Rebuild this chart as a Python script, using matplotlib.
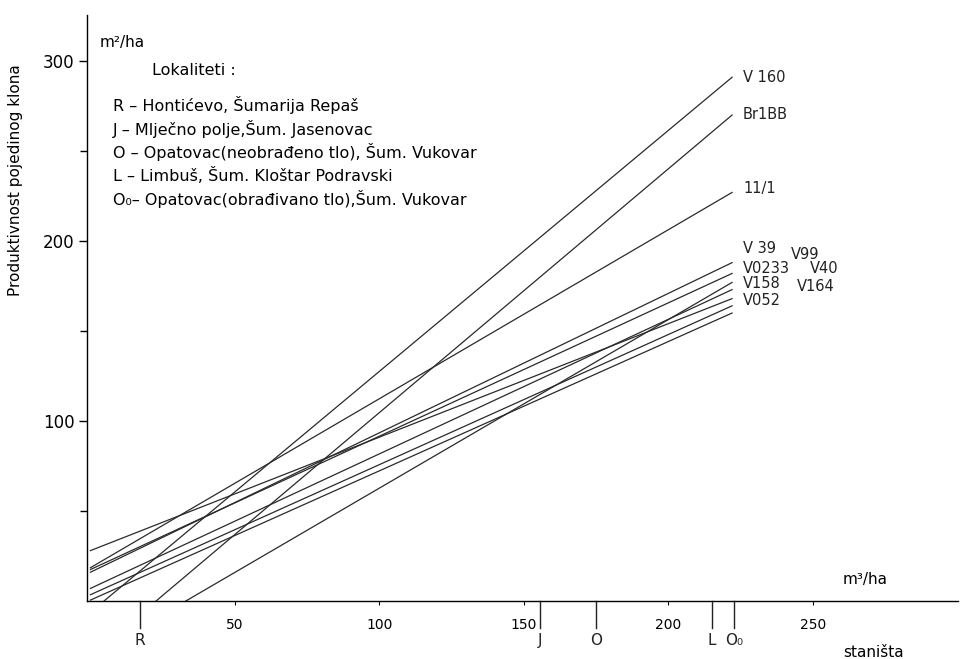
import numpy as np
import matplotlib
matplotlib.use("Agg")
import matplotlib.pyplot as plt

# klonovi: pocetak pravca (x0, y0) i vrijednost na O0 (x = 222)
klonovi = ["V 160", "Br1BB", "11/1", "V 39", "V99", "V0233", "V40", "V158", "V164", "V052"]
pocetak_x = [4.7, 22.7, 0, 0, 0, 33, 0, 0, 0, 0]
pocetak_y = [0, 0, 18.5, 16, 17.5, 0, 7, 28, 3.5, 0.5]
kraj_x = 222
kraj_y = [291, 270, 227, 188, 182, 177, 173, 168, 164, 160]

# stanista na osi x
stanista = ["R", "J", "O", "L", "O₀"]
stanista_x = [17, 155.5, 175, 215, 222.6]

x_ticks = [50, 100, 150, 200, 250]
y_ticks = [100, 200, 300]
y_minor = [50, 150, 250]

legenda = [
    "R – Hontićevo, Šumarija Repaš",
    "J – Mlječno polje,Šum. Jasenovac",
    "O – Opatovac(neobrađeno tlo), Šum. Vukovar",
    "L – Limbuš, Šum. Kloštar Podravski",
    "O₀– Opatovac(obrađivano tlo),Šum. Vukovar",
]

# polozaji oznaka klonova (x, y u jedinicama grafa)
oznake_pos = {
    "V 160": (225.8, 291), "Br1BB": (225.8, 270.5), "11/1": (225.8, 229),
    "V 39": (225.8, 196), "V99": (242.5, 192.5), "V0233": (225.8, 185),
    "V40": (249, 184.5), "V158": (225.8, 176.5), "V164": (244.5, 175),
    "V052": (225.8, 167),
}

fig = plt.figure(figsize=(9.6, 6.59), dpi=100)
ax = fig.add_axes([0.0906, 0.088, 0.9068, 0.889])

for naziv, x0, y0, y1 in zip(klonovi, pocetak_x, pocetak_y, kraj_y):
    ax.plot([x0, kraj_x], [y0, y1], color="#2a2a2a", lw=0.9)
    tx, ty = oznake_pos[naziv]
    ax.text(tx, ty, naziv, fontsize=10.5, va="center", ha="left", color="#222")

ax.set_xlim(-1.2, 300)
ax.set_ylim(0, 325.5)
ax.spines["top"].set_visible(False)
ax.spines["right"].set_visible(False)
ax.spines["left"].set_linewidth(1.0)
ax.spines["bottom"].set_linewidth(1.0)

ax.set_yticks(y_ticks)
ax.set_yticks(y_minor, minor=True)
ax.tick_params(axis="y", which="major", direction="out", length=6, width=1, labelsize=12, pad=3)
ax.tick_params(axis="y", which="minor", direction="out", length=5, width=1)
ax.set_xticks(x_ticks)
ax.tick_params(axis="x", which="major", direction="out", length=3, width=0.8, labelsize=10, pad=9)

# stanista - okomite crtice ispod osi
for s, sx in zip(stanista, stanista_x):
    ax.plot([sx, sx], [0, -15], color="#222", lw=1, clip_on=False)
    ax.text(sx, -22, s, fontsize=11, ha="center", va="center", color="#222")

ax.text(268, 11.7, "m³/ha", fontsize=11, ha="center", va="center")
ax.text(271, -28.5, "staništa", fontsize=11, ha="center", va="center")
ax.text(3.3, 310.5, "m²/ha", fontsize=11, ha="left", va="center")

ax.text(21.3, 295, "Lokaliteti :", fontsize=11.5, ha="left", va="center")
for i, red in enumerate(legenda):
    ax.text(7.7, 275.5 - i * 13.0, red, fontsize=11.5, ha="left", va="center")

fig.text(16 / 960, 1 - 180 / 659, "Produktivnost pojedinog klona", rotation=90,
         fontsize=11, ha="center", va="center")

fig.savefig("out.png", dpi=100)
